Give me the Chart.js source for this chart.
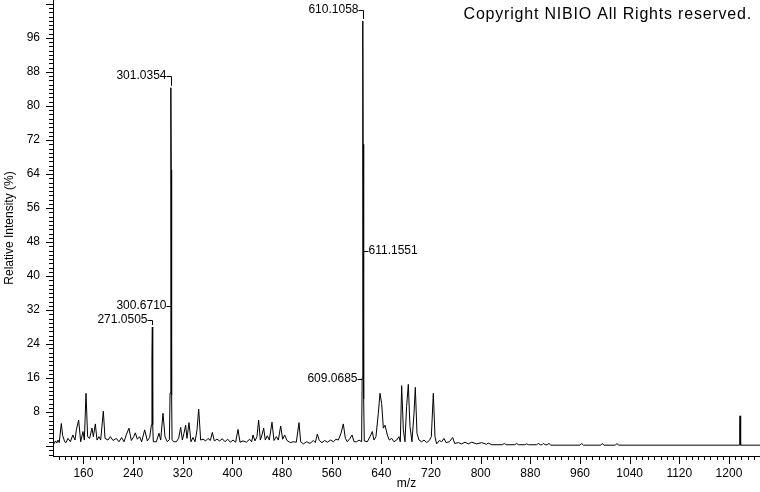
<!DOCTYPE html>
<html><head><meta charset="utf-8">
<script src="https://cdn.jsdelivr.net/npm/chart.js@4/dist/chart.umd.min.js"></script>
<style>html,body{margin:0;padding:0;background:#fff;overflow:hidden}canvas{display:block}</style>
</head><body>
<canvas id="c" width="760" height="492"></canvas>
<script>
// m/z values of the profile spectrum
const mz = [
111.5,113,115,117,119,121,124.4,126.5,129.8,132,135,139,143,146.4,148.6,152.3,155.6,159.3,161.5,164.2,
166.8,170,173.8,176,179.2,181.9,185,187.8,192.1,194.8,199.6,203.4,207.7,213,217.3,221.6,225.4,229,233.4,237.2,
241,243.6,246.9,250.6,253.8,258.7,263,266.7,269.6,270.4,271.05,271.6,272.6,277.5,281.8,284.5,288.2,291.4,295.2,298.5,
299.6,300.67,301.04,301.5,302.1,302.8,305.5,309.7,313.4,316.7,319.4,322,324.7,326.9,330.1,333.3,336.5,339.8,343,345.7,
348.9,352.7,357,360.7,364.5,367.7,370.9,375.2,379.5,383.8,388.1,392.4,396.7,401,405.3,409,412.3,417.1,422.5,427.8,
431,433.2,436.4,439.6,442.3,445,447.7,450.4,453,456.3,459.5,463.8,467,470.8,474,477.8,481,484.2,488,493.3,
498,503,507.3,510,514.3,519.7,525,530.4,533.6,536.8,540,544.4,548.6,553,558.3,562.6,566.9,570.7,575,578.7,
582,585.2,589.5,592.7,596,600.2,604,608.2,609.07,610.11,610.6,611.16,611.8,612.5,617.4,621.7,625.4,628.1,631.3,635.1,
637.8,640.5,643.2,645.9,649.6,652.8,656.6,660.3,664.6,668.4,670.5,672.7,675.4,678,680.7,683.4,686.1,689.3,692.6,694.7,
697.4,700.6,705,708.7,713,717.3,720.5,723.7,726.4,729,733.4,737.1,740.9,744.1,749.5,754.9,758.1,764,769.4,774.7,
780.1,785.5,793.5,801.6,809.6,812,818,835,838,841,855,858,861,871,874,877,890,893,896,899,
901,904,907,910,913,960,962.7,965.5,993.5,996,998.5,1017,1019.6,1022,1216.5,1217.3,1217.8,1218.4,1219.2,1250
];
// relative intensity (%) at each m/z
const intensity = [
1.0,0.6,1.2,0.7,1.4,0.8,5.3,2.5,1.0,0.8,1.8,1.0,2.6,1.4,3.8,6.1,1.0,3.4,1.4,12.4,
2.2,1.8,4.2,2.2,5.2,1.4,2.2,1.4,8.2,1.8,1.4,2.2,1.3,1.8,1.0,2.0,1.0,2.6,4.2,1.3,
2.2,3.1,1.6,2.2,1.0,3.8,1.2,2.0,5.0,20.7,28.0,5.0,1.0,1.0,3.0,1.4,7.7,2.2,1.0,1.5,
12.5,28.0,84.3,65.0,12.0,1.5,1.0,1.0,1.8,4.4,1.4,3.0,4.9,1.8,5.5,1.0,2.0,1.0,3.8,8.7,
1.4,1.6,1.2,1.8,1.3,3.2,1.2,1.6,1.2,1.7,1.0,1.6,0.9,1.4,0.9,3.9,0.9,1.2,0.9,1.6,
1.0,2.6,1.2,2.2,6.1,1.4,2.6,4.2,1.4,2.4,1.4,5.6,1.3,2.2,1.4,4.7,1.6,2.6,1.3,0.8,
1.0,0.9,5.5,1.0,0.5,1.0,0.6,1.3,0.8,2.8,1.3,0.8,1.3,0.9,1.4,1.0,1.6,1.4,3.0,5.2,
1.8,1.0,1.8,2.6,1.0,1.0,1.4,1.0,16.0,100.0,71.0,46.0,11.0,1.2,1.0,2.2,3.4,1.4,2.2,7.7,
12.4,10.0,4.2,4.9,2.6,1.4,1.8,1.0,1.4,2.2,1.0,14.2,3.8,1.0,9.3,14.5,4.6,1.0,7.7,13.8,
3.0,1.4,1.0,1.4,0.8,1.3,2.2,12.4,2.2,0.5,1.3,1.0,1.8,0.8,1.0,2.0,0.6,0.8,0.5,0.9,
0.5,0.9,0.5,0.8,0.4,0.7,0.3,0.3,0.6,0.3,0.3,0.6,0.3,0.3,0.5,0.3,0.3,0.6,0.3,0.3,
0.6,0.3,0.3,0.6,0.2,0.2,0.6,0.2,0.2,0.6,0.2,0.2,0.6,0.2,0.2,4.2,7.1,4.0,0.2,0.2
];
const xTickLabels = [160,240,320,400,480,560,640,720,800,880,960,1040,1120,1200];
const yTickLabels = [8,16,24,32,40,48,56,64,72,80,88,96];
// annotated peaks
const peakMz = [610.1058, 301.0354, 300.6710, 271.0505, 611.1551, 609.0685];
const peakLabels = ['610.1058','301.0354','300.6710','271.0505','611.1551','609.0685'];
const peakIntensity = [100, 84.3, 28, 28, 46, 16];
const labelLevel = [102.6, 87.1, 32.9, 29.6, 45.9, 15.8];
const labelSide = ['left','left','left','left','right','left'];
const labelStyle = ['bracket','bracket','dash','bracket','dash','dash'];
const copyrightText = 'Copyright NIBIO All Rights reserved.';

const FONT = '"Liberation Sans", Arial, Helvetica, sans-serif';

const tickMarks = {
  id: 'tickMarks',
  afterDraw(chart) {
    const ctx = chart.ctx, xs = chart.scales.x, ys = chart.scales.y, a = chart.chartArea;
    ctx.save();
    ctx.strokeStyle = '#000'; ctx.lineWidth = 1;
    ctx.beginPath();
    for (let v = Math.ceil(ys.min); v <= ys.max; v++) {
      const y = Math.round(ys.getPixelForValue(v)) + 0.5;
      const len = (v % 8 === 0) ? 7 : 4;
      ctx.moveTo(a.left, y); ctx.lineTo(a.left - len, y);
    }
    for (let v = Math.ceil(xs.min / 10) * 10; v <= xs.max; v += 10) {
      const x = Math.round(xs.getPixelForValue(v)) + 0.5;
      const len = (v % 80 === 0) ? 8 : 4;
      ctx.moveTo(x, a.bottom); ctx.lineTo(x, a.bottom + len);
    }
    ctx.stroke();
    ctx.restore();
  }
};

const peakLabelPlugin = {
  id: 'peakLabelPlugin',
  afterDatasetsDraw(chart) {
    const ctx = chart.ctx, xs = chart.scales.x, ys = chart.scales.y;
    ctx.save();
    ctx.font = '12px ' + FONT;
    ctx.fillStyle = '#000'; ctx.strokeStyle = '#000'; ctx.lineWidth = 1;
    ctx.textBaseline = 'middle';
    const gap = 5;
    peakMz.forEach((m, i) => {
      const px = Math.round(xs.getPixelForValue(m)) + 0.5;
      const ly = Math.round(ys.getPixelForValue(labelLevel[i])) + 0.5;
      const py = ys.getPixelForValue(peakIntensity[i]);
      ctx.beginPath();
      if (labelSide[i] === 'left') {
        ctx.textAlign = 'right';
        ctx.fillText(peakLabels[i], px - gap, ly - 1);
        ctx.moveTo(px - gap, ly); ctx.lineTo(px, ly);
      } else {
        ctx.textAlign = 'left';
        ctx.fillText(peakLabels[i], px + gap, ly - 1);
        ctx.moveTo(px + gap, ly); ctx.lineTo(px, ly);
      }
      if (labelStyle[i] === 'bracket') {
        ctx.moveTo(px, ly); ctx.lineTo(px, py - 2);
      }
      ctx.stroke();
    });
    ctx.restore();
  }
};

const copyrightPlugin = {
  id: 'copyrightPlugin',
  afterDraw(chart) {
    const ctx = chart.ctx;
    ctx.save();
    ctx.font = '16px ' + FONT;
    ctx.fillStyle = '#000';
    ctx.textAlign = 'right';
    ctx.textBaseline = 'alphabetic';
    if ('letterSpacing' in ctx) ctx.letterSpacing = '0.8px';
    ctx.fillText(copyrightText, 752, 19);
    ctx.restore();
  }
};

new Chart(document.getElementById('c'), {
  type: 'line',
  data: {
    datasets: [{
      data: mz.map((m, i) => ({ x: m, y: intensity[i] })),
      borderColor: '#000',
      borderWidth: 1,
      pointRadius: 0,
      tension: 0,
      fill: false
    }]
  },
  options: {
    responsive: false,
    animation: false,
    devicePixelRatio: 1,
    layout: { padding: 0 },
    plugins: { legend: { display: false }, tooltip: { enabled: false }, title: { display: false } },
    scales: {
      x: {
        type: 'linear', min: 111, max: 1250,
        grid: { display: false, drawTicks: false },
        border: { display: true, color: '#000', width: 1 },
        afterBuildTicks: s => { s.ticks = xTickLabels.map(v => ({ value: v })); },
        ticks: { color: '#000', font: { family: FONT, size: 12 }, padding: 10, maxRotation: 0, autoSkip: false, callback: v => String(v) },
        title: { display: true, text: 'm/z', color: '#000', font: { family: FONT, size: 12 }, padding: { top: 0, bottom: 1 } },
        afterFit: s => { s.height = 36; s.paddingLeft = 0; s.paddingRight = 0; }
      },
      y: {
        type: 'linear', min: -2.35, max: 104.94,
        grid: { display: false, drawTicks: false },
        border: { display: true, color: '#000', width: 1 },
        afterBuildTicks: s => { s.ticks = yTickLabels.map(v => ({ value: v })); },
        ticks: { color: '#000', font: { family: FONT, size: 12 }, padding: 13, autoSkip: false, callback: v => String(v) },
        title: { display: true, text: 'Relative Intensity (%)', color: '#000', font: { family: FONT, size: 12 }, padding: { top: 2, bottom: 0 } },
        afterFit: s => { s.width = 53; s.paddingTop = 0; s.paddingBottom = 0; }
      }
    }
  },
  plugins: [tickMarks, peakLabelPlugin, copyrightPlugin]
});
</script>
</body></html>
